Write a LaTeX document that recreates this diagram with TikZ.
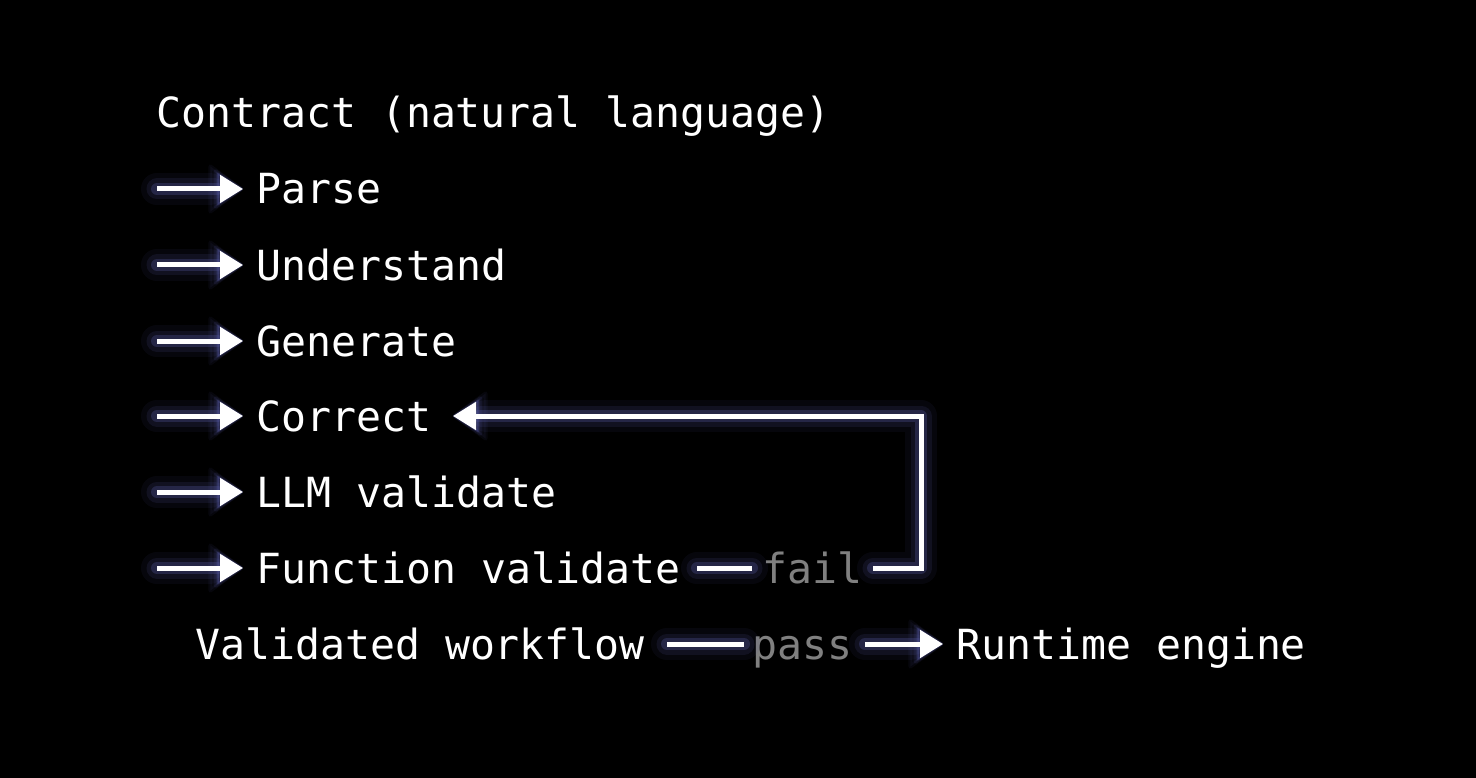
\documentclass[tikz,border=0pt]{standalone}
\usepackage{fontspec}
\setmonofont{DejaVu Sans Mono}
\usetikzlibrary{arrows.meta}
\definecolor{glowc}{RGB}{85,88,160}
\definecolor{dimtext}{RGB}{128,128,128}
\tikzset{
  lbl/.style={anchor=base west, inner sep=0pt, text=white, font=\ttfamily\fontsize{41.5}{50}\selectfont},
  dim/.style={lbl, text=dimtext},
  gl/.style={draw=glowc, line cap=round, line join=round},
  glowline/.style={
    preaction={gl, line width=32pt, opacity=0.08},
    preaction={gl, line width=21pt, opacity=0.14},
    preaction={gl, line width=12pt, opacity=0.3}},
  glowarr/.style={
    preaction={gl, line width=32pt, opacity=0.08, -{Triangle[length=36pt,width=52pt,round,line width=4pt]}},
    preaction={gl, line width=21pt, opacity=0.14, -{Triangle[length=31pt,width=42pt,round,line width=4pt]}},
    preaction={gl, line width=12pt, opacity=0.3, -{Triangle[length=27pt,width=34pt,round,line width=2pt]}}},
  conn/.style={glowline, draw=white, line width=5pt},
  arr/.style={glowarr, draw=white, line width=5pt, -{Triangle[length=23pt,width=27pt]}},
}
\begin{document}
\begin{tikzpicture}[x=1pt,y=-1pt]
\fill[black] (0,0) rectangle (1476,778);
\node[lbl] (title) at (156,128) {Contract (natural language)};
\node[lbl] (parse) at (256,204) {Parse};
\node[lbl] (underst) at (256,280) {Understand};
\node[lbl] (gen) at (256,356) {Generate};
\node[lbl] (corr) at (256,431) {Correct};
\node[lbl] (llm) at (256,507) {LLM validate};
\node[lbl] (func) at (256,583) {Function validate};
\node[dim] (fail) at (762,583) {fail};
\node[lbl] (valid) at (195,659) {Validated workflow};
\node[dim] (pass) at (752,659) {pass};
\node[lbl] (rt) at (956,659) {Runtime engine};
\foreach \i/\y in {1/189,2/265,3/341,4/416,5/492,6/568}{
  \coordinate (s\i) at (157,\y);
  \coordinate (e\i) at (243,\y);
  \draw[arr] (s\i) -- (e\i);
}
\coordinate (f1) at (697,568);
\coordinate (f2) at (752,568);
\draw[conn] (f1) -- (f2);
\coordinate (g1) at (873,568);
\coordinate (k) at (921,416);
\coordinate (ct) at (453,416);
\draw[arr] (g1) -| (k) -- (ct);
\coordinate (v1) at (667,644);
\coordinate (v2) at (744,644);
\draw[conn] (v1) -- (v2);
\coordinate (p1) at (865,644);
\coordinate (p2) at (943,644);
\draw[arr] (p1) -- (p2);
\end{tikzpicture}
\end{document}
